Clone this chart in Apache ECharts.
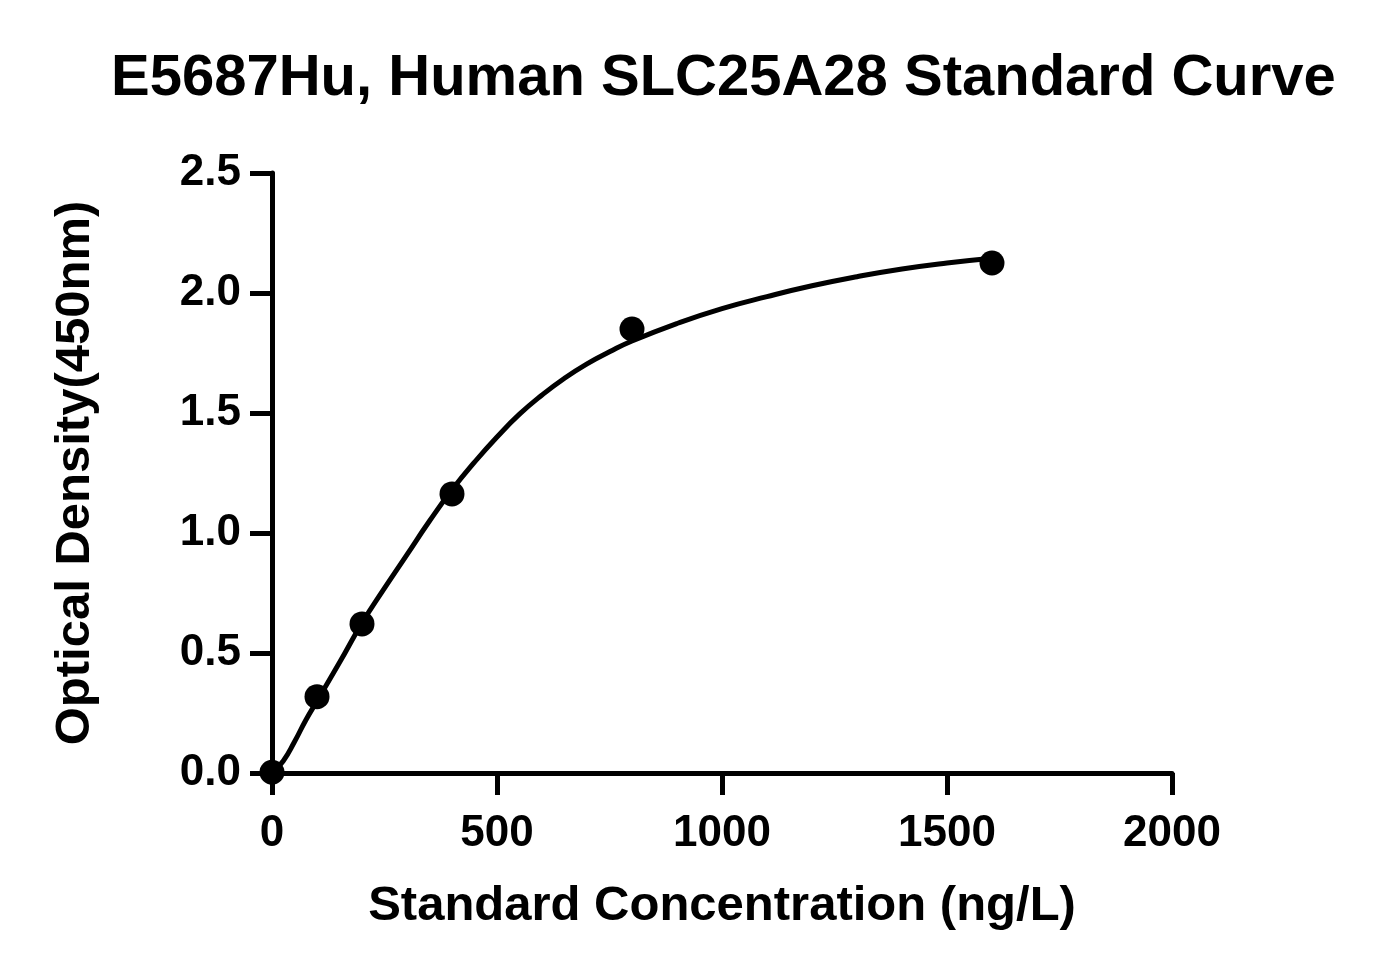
<!DOCTYPE html>
<html>
<head>
<meta charset="utf-8">
<title>E5687Hu Standard Curve</title>
<script src="https://cdn.jsdelivr.net/npm/echarts@6/dist/echarts.min.js"></script>
<style>
  html, body { margin: 0; padding: 0; background: #fff; }
  #chart { width: 1380px; height: 975px; }
</style>
</head>
<body>
<div id="chart"></div>
<script>
// measured standards
const concentrations = [0, 100, 200, 400, 800, 1600];
const densities = [0.003, 0.318, 0.621, 1.163, 1.85, 2.125];

// fitted curve
const curveX = [0, 25, 50, 75, 100, 150, 200, 250, 300, 350, 400, 450, 500, 550, 600, 650, 700, 750, 800, 900, 1000, 1100, 1200, 1300, 1400, 1500, 1600];
const curveY = [0, 0.05, 0.13, 0.22, 0.30, 0.46, 0.625, 0.77, 0.91, 1.05, 1.18, 1.295, 1.40, 1.495, 1.575, 1.645, 1.705, 1.755, 1.80, 1.873, 1.935, 1.985, 2.03, 2.068, 2.10, 2.125, 2.145];

const xTicks = [0, 500, 1000, 1500, 2000];
const yTicks = [0, 0.5, 1.0, 1.5, 2.0, 2.5];

const font = '"Liberation Sans", Arial, sans-serif';

const chart = echarts.init(document.getElementById('chart'));

chart.setOption({
  backgroundColor: '#fff',
  animation: false,
  title: {
    text: 'E5687Hu, Human SLC25A28 Standard Curve',
    left: 106,
    top: 45,
    textStyle: { color: '#000', fontFamily: font, fontWeight: 'bold', fontSize: 58 },
  },
  grid: { left: 272, right: 208, top: 173, bottom: 202 },
  xAxis: {
    type: 'value',
    min: 0,
    max: 2000,
    interval: 500,
    name: 'Standard Concentration (ng/L)',
    nameLocation: 'middle',
    nameGap: 109,
    nameTextStyle: { color: '#000', fontFamily: font, fontWeight: 'bold', fontSize: 49 },
    axisLine: { onZero: false, lineStyle: { color: '#000', width: 5 } },
    axisTick: { length: 22, lineStyle: { color: '#000', width: 5 } },
    axisLabel: {
      color: '#000', fontFamily: font, fontWeight: 'bold', fontSize: 44, margin: 39,
      formatter: v => xTicks.includes(v) ? String(v) : '',
    },
    splitLine: { show: false },
  },
  yAxis: {
    type: 'value',
    min: 0,
    max: 2.5,
    interval: 0.5,
    name: 'Optical Density(450nm)',
    nameLocation: 'middle',
    nameGap: 172,
    nameTextStyle: { color: '#000', fontFamily: font, fontWeight: 'bold', fontSize: 49 },
    axisLine: { onZero: false, lineStyle: { color: '#000', width: 5 } },
    axisTick: { length: 22, lineStyle: { color: '#000', width: 5 } },
    axisLabel: {
      color: '#000', fontFamily: font, fontWeight: 'bold', fontSize: 44, margin: 31,
      formatter: v => yTicks.includes(v) ? v.toFixed(1) : '',
    },
    splitLine: { show: false },
  },
  series: [
    {
      name: 'Fit',
      type: 'line',
      data: curveX.map((x, i) => [x, curveY[i]]),
      smooth: 0.5,
      showSymbol: false,
      clip: false,
      lineStyle: { color: '#000', width: 5 },
      z: 2,
    },
    {
      name: 'Standards',
      type: 'scatter',
      data: concentrations.map((x, i) => [x, densities[i]]),
      symbol: 'circle',
      symbolSize: 25,
      clip: false,
      itemStyle: { color: '#000', opacity: 1 },
      z: 3,
    },
  ],
});
</script>
</body>
</html>
